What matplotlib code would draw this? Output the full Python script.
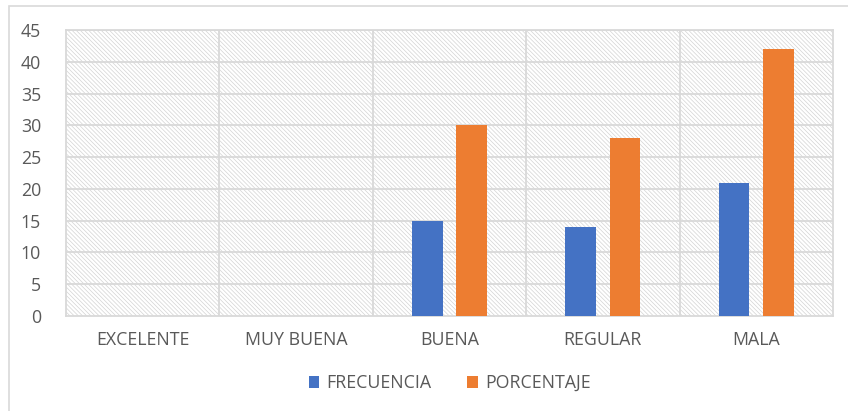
import matplotlib.pyplot as plt
import numpy as np
from matplotlib.patches import Rectangle

categorias = ["EXCELENTE", "MUY BUENA", "BUENA", "REGULAR", "MALA"]
frecuencia = [0, 0, 15, 14, 21]
porcentaje = [0, 0, 30, 28, 42]

plt.rcParams['font.family'] = ['Open Sans', 'DejaVu Sans']
plt.rcParams['hatch.linewidth'] = 0.5
plt.rcParams['hatch.color'] = '#d3d3d3'

fig = plt.figure(figsize=(8.48, 4.11), dpi=100)
# marco exterior del grafico
fig.patches.append(Rectangle((9 / 848, -0.05), 1.0, 1 - 6 / 411 + 0.05,
                             transform=fig.transFigure, fill=False,
                             edgecolor='#d9d9d9', linewidth=1.2))

ax = fig.add_axes([66 / 848, 1 - 316 / 411, (833 - 66) / 848, (316 - 30) / 411])
ax.set_facecolor('white')
# fondo rayado
ax.add_patch(Rectangle((0, 0), 1, 1, transform=ax.transAxes, facecolor='white',
                       hatch='\\' * 8, edgecolor='#d3d3d3', linewidth=0, zorder=0))

x = np.arange(len(categorias))
w = 0.2
ax.bar(x - 0.145, frecuencia, w, color='#4472C4', label='FRECUENCIA', zorder=3)
ax.bar(x + 0.145, porcentaje, w, color='#ED7D31', label='PORCENTAJE', zorder=3)

ax.set_xlim(-0.5, len(categorias) - 0.5)
ax.set_ylim(0, 45)
ax.set_yticks(range(0, 46, 5))
for y in range(5, 46, 5):
    ax.axhline(y, color='#d9d9d9', linewidth=1.3, zorder=1)
for b in np.arange(0.5, len(categorias) - 0.5, 1):
    ax.axvline(b, color='#d9d9d9', linewidth=1.3, zorder=1)

ax.set_xticks(x)
ax.set_xticklabels(categorias)
ax.tick_params(axis='both', length=0, labelsize=12.8, labelcolor='#595959')
ax.tick_params(axis='x', pad=11)
ax.tick_params(axis='y', pad=18)
for s in ax.spines.values():
    s.set_color('#d9d9d9')
    s.set_linewidth(1.3)

ax.legend(loc='center', bbox_to_anchor=(0.5, -0.235), ncol=2, frameon=False,
          fontsize=12.8, labelcolor='#595959', handlelength=0.6, handleheight=0.6,
          columnspacing=2.0, handletextpad=0.4)

fig.savefig('out.png', dpi=100)
